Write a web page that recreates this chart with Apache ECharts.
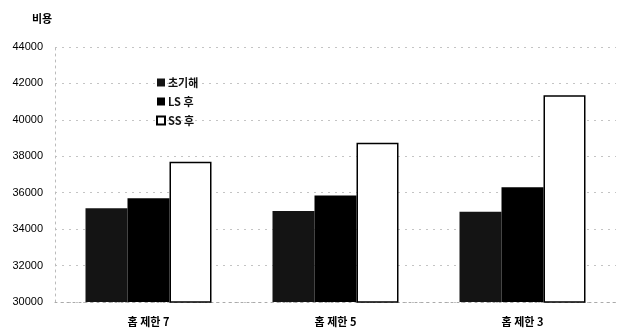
<!DOCTYPE html>
<html>
<head>
<meta charset="utf-8">
<script src="https://cdn.jsdelivr.net/npm/echarts@6/dist/echarts.min.js"></script>
<style>
  html, body { margin: 0; padding: 0; background: #fff; }
  #chart { width: 623px; height: 335px; }
</style>
</head>
<body>
<div id="chart"></div>
<script>
// Cost by hop limit: initial solution, after LS, after SS
const categories = ['홉 제한 7', '홉 제한 5', '홉 제한 3'];
const initialCost = [35150, 35000, 34950];
const afterLS = [35700, 35850, 36300];
const afterSS = [37700, 38750, 41350];
const seriesNames = ['초기해', 'LS 후', 'SS 후'];
const yTicks = [30000, 32000, 34000, 36000, 38000, 40000, 42000, 44000];

const font = 'Arial, "Liberation Sans", "Noto Sans CJK KR", sans-serif';
const chart = echarts.init(document.getElementById('chart'), null, { renderer: 'canvas' });

chart.setOption({
  animation: false,
  backgroundColor: '#ffffff',
  title: {
    text: '비용',
    left: 27, top: 8,
    textStyle: { fontFamily: '"Noto Sans CJK KR", sans-serif', fontSize: 11, fontWeight: 'bold', color: '#000' }
  },
  legend: {
    orient: 'vertical',
    left: 152, top: 75,
    itemWidth: 8, itemHeight: 8, itemGap: 8,
    icon: 'rect',
    padding: [2, 4, 2, 4],
    textStyle: { fontFamily: '"Noto Sans CJK KR", sans-serif', fontSize: 11, fontWeight: 'bold', color: '#111', padding: [0, 0, 0, -2] },
    data: seriesNames
  },
  grid: { left: 55, right: 7, top: 47, bottom: 33, containLabel: false },
  xAxis: {
    type: 'category',
    data: categories,
    axisLine: { show: true, lineStyle: { color: '#aaa', type: [2, 4] } },
    axisTick: { show: false },
    axisLabel: {
      margin: 14,
      fontFamily: '"Noto Sans CJK KR", sans-serif', fontSize: 11, fontWeight: 'bold', color: '#000'
    }
  },
  yAxis: {
    type: 'value',
    min: yTicks[0], max: yTicks[yTicks.length - 1], interval: 2000,
    axisLine: { show: true, lineStyle: { color: '#bbb', type: [2, 4] } },
    axisTick: { show: false },
    splitLine: { show: true, lineStyle: { color: '#c4c4c4', type: [2, 5], width: 1 } },
    axisLabel: {
      margin: 12,
      formatter: v => String(v),
      fontFamily: font, fontSize: 11, color: '#000', letterSpacing: -0.6
    }
  },
  series: [
    {
      name: seriesNames[0], type: 'bar', data: initialCost,
      barWidth: 42, barGap: '0%',
      itemStyle: {
        color: '#141414',
        decal: { symbol: 'rect', symbolSize: 0.2, dashArrayX: [1, 4], dashArrayY: [1, 6], color: 'rgba(110,110,110,0.6)', rotation: 0 }
      }
    },
    {
      name: seriesNames[1], type: 'bar', data: afterLS,
      barWidth: 42, barGap: '0%',
      itemStyle: { color: '#000000' }
    },
    {
      name: seriesNames[2], type: 'bar', data: afterSS,
      barWidth: 42, barGap: '0%',
      itemStyle: { color: '#ffffff', borderColor: '#000', borderWidth: 1.5 }
    }
  ]
});
</script>
</body>
</html>
